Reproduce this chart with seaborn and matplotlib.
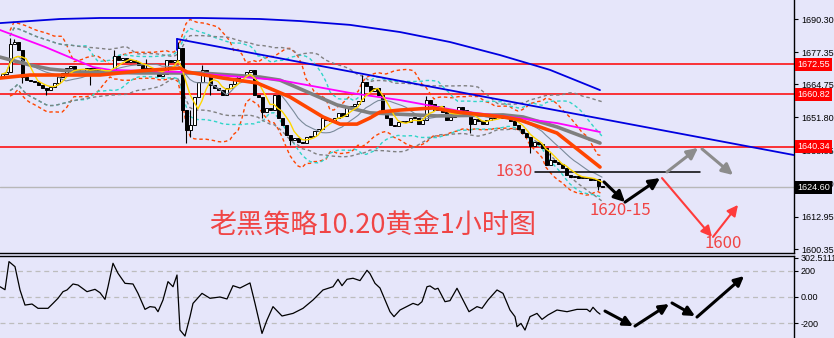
import numpy as np
import pandas as pd
import matplotlib
matplotlib.use("Agg")
import matplotlib.pyplot as plt
import seaborn as sns
from matplotlib.transforms import blended_transform_factory

# ---------------- data ----------------
first_open = 1667.6
closes = [
    1668.8, 1669.6, 1680.5, 1681.3, 1678.2, 1667.6, 1666.4, 1666.1, 1665.7, 1664.5,
    1663.3, 1662.5, 1663.7, 1665.3, 1667.6, 1669.2, 1671.1, 1671.9, 1670.4, 1669.6,
    1670.0, 1671.1, 1670.4, 1671.1, 1670.0, 1669.2, 1669.6, 1670.4, 1675.8, 1674.3,
    1675.1, 1673.5, 1674.3, 1673.5, 1672.3, 1670.8, 1671.1, 1670.4, 1670.0, 1668.0,
    1668.8, 1674.3, 1673.5, 1674.3, 1679.0, 1654.7, 1646.9, 1648.8, 1659.8, 1665.7,
    1670.4, 1668.8, 1664.5, 1663.3, 1662.5, 1660.6, 1663.3, 1664.9, 1667.2, 1668.0,
    1668.4, 1669.6, 1670.4, 1660.6, 1659.8, 1653.9, 1655.5, 1654.7, 1660.6, 1651.6,
    1648.8, 1644.9, 1643.0, 1643.8, 1642.2, 1641.8, 1644.2, 1644.6, 1646.5, 1647.3,
    1651.6, 1650.8, 1650.4, 1651.6, 1653.5, 1652.4, 1655.5, 1656.3, 1657.1, 1658.2,
    1665.7, 1664.1, 1662.2, 1663.3, 1660.6, 1653.9, 1651.6, 1648.8, 1648.5, 1650.0,
    1650.4, 1650.0, 1651.6, 1651.6, 1649.2, 1650.8, 1658.6, 1657.1, 1654.7, 1656.3,
    1653.9, 1650.8, 1652.0, 1653.2, 1655.9, 1654.7, 1652.4, 1649.2, 1651.2, 1650.4,
    1649.2, 1650.8, 1651.6, 1652.4, 1652.0, 1651.6, 1652.4, 1650.4, 1648.8, 1647.3,
    1645.7, 1644.2, 1640.6, 1642.2, 1641.4, 1639.9, 1633.2, 1635.2, 1634.4, 1633.6,
    1632.0, 1629.3, 1628.5, 1628.9, 1628.1, 1628.5, 1628.1, 1627.3, 1627.7, 1625.0,
    1624.6,
]
wick_highs = {2: 1682.9, 3: 1682.5, 28: 1678.2, 36: 1674.5, 44: 1681.3, 47: 1654.7,
              50: 1672.3, 90: 1668.4, 106: 1660.2, 137: 1638.3}
wick_lows = {5: 1665.3, 11: 1660.6, 22: 1664.5, 45: 1650.0, 46: 1641.8, 47: 1644.2,
             52: 1660.6, 65: 1651.5, 72: 1641.0, 117: 1645.7, 132: 1637.9, 149: 1623.5}

# moving-average lines (bar index, price)
blue_ma_x = [-0.5, 7, 14.5, 24.5, 32, 49.5, 64.5, 74.5, 87, 99.5, 112, 124.5, 137, 149.5]
blue_ma_y = [1688.7, 1689.5, 1690.3, 1690.7, 1690.7, 1690.7, 1690.3, 1689.5, 1688.0,
             1685.2, 1681.3, 1676.2, 1670.4, 1662.5]
magenta_x = [-0.5, 10.75, 22.75, 27, 44.5, 69.5, 87, 99.5, 114.5, 127, 138.75, 149.5]
magenta_y = [1686.0, 1679.4, 1671.5, 1670.4, 1669.6, 1666.4, 1661.4, 1658.6, 1654.3,
             1652.0, 1649.6, 1646.1]
grey_x = [-0.5, 7, 12, 19.5, 34.5, 49.5, 64.5, 69.5, 75.25, 83.75, 92, 108.75, 125.25,
          130.25, 138.75, 149.5]
grey_y = [1675.4, 1672.3, 1670.7, 1669.6, 1669.2, 1669.2, 1667.6, 1666.4, 1662.5, 1656.7,
          1653.6, 1652.4, 1652.8, 1652.0, 1648.1, 1641.8]
orange_x = [-0.5, 7, 24.5, 34.5, 44.5, 46.25, 55.25, 63.75, 72, 80.25, 84.5, 88.75, 92,
            94.5, 99.5, 107.75, 113.75, 125.25, 129.5, 138.75, 149.5]
orange_y = [1667.2, 1668.4, 1668.4, 1670.0, 1671.1, 1669.6, 1667.2, 1665.3, 1659.8,
            1652.0, 1649.2, 1649.2, 1651.6, 1653.9, 1654.7, 1655.5, 1653.9, 1652.0,
            1650.8, 1645.7, 1632.4]

trend_x = [43.75, 198]
trend_y = [1682.5, 1637.1]

hlines_red = [1672.55, 1660.82, 1640.34]
current_price = 1624.60
level_1630 = 1630.5
price_ticks = [1600.35, 1612.95, 1625.90, 1638.85, 1651.80, 1664.75, 1677.35, 1690.30]

# oscillator (bar index, value)
osc_points = [
    (-0.5, 79), (0.75, 56), (1.75, 272), (3.25, 233), (4.5, 54), (5.75, -62), (7.5, -54),
    (9, -87), (11.5, -87), (12.75, -49), (14, -10), (15.25, 41), (16.25, 54), (17.75, 100),
    (19, 92), (21.25, 41), (23.25, 59), (24.5, 33), (25.75, -18), (26.5, 79), (27.75, 259),
    (29, 182), (30.75, 105), (32.75, 100), (34, 28), (35.75, -95), (37, -74), (38.25, -79),
    (39, -113), (40.25, -23), (41.5, 118), (42.75, 79), (43.75, 169), (44.5, -254),
    (45.75, -300), (47, -151), (47.75, -49), (50, 28), (52, -10), (54.5, 0), (56.25, -15),
    (57.75, 87), (59.5, 69), (62, 108), (63.25, -49), (65, -280), (66.25, -177),
    (67.75, -74), (70, -146), (72.75, -126), (75.25, -87), (77.75, -23), (80.25, 54),
    (82.75, 79), (84, 136), (85, 87), (86.25, 136), (87.75, 144), (89.5, 126),
    (91.25, 205), (92, 179), (93.25, 105), (94.5, 69), (97, -113), (98, -151),
    (99.5, -100), (102.75, -49), (104, -62), (105, -36), (106.25, 79), (107, 85),
    (108.25, 59), (109, 67), (110.75, -36), (112, -28), (113.75, 67), (115.25, -23),
    (116.75, -113), (118.75, -74), (120, -87), (121.5, -23), (123.75, 54), (125.25, 28),
    (127, -100), (128.25, -151), (128.75, -228), (129.75, -203), (130.75, -254),
    (132, -151), (133.75, -126), (135, -172), (136.5, -138), (138.75, -100),
    (141.25, -113), (143.75, -95), (146.25, -95), (147, -113), (147.75, -79),
    (148.75, -113), (149.5, -131),
]
osc_ticks = [-200, 0, 200, 302.5111]
osc_tick_labels = ["-200", "0.00", "200", "302.5111"]

# forecast arrows (bar index, price) and (bar index, oscillator value)
arrows_black = [((150.5, 1626.6), (155.75, 1618.7)), ((155.75, 1618.7), (164.5, 1628.1))]
arrows_grey = [((166.25, 1630.5), (174.0, 1639.9)), ((175.0, 1639.5), (182.75, 1629.3))]
arrows_red = [((165.0, 1628.1), (177.5, 1605.1)), ((177.75, 1605.1), (184.0, 1617.6))]
arrows_osc = [((150.75, -108), (157.75, -223)), ((158.25, -223), (166.75, -54)),
              ((167.5, -46), (173.25, -146)), ((173.75, -154), (185.5, 161))]

title_text = "老黑策略10.20黄金1小时图"

# ---------------- styling ----------------
BG = "#E6E6FA"
sns.set_theme(style="white", rc={"axes.facecolor": BG, "figure.facecolor": BG})
plt.rcParams["font.family"] = ["Liberation Sans", "Noto Sans CJK SC", "DejaVu Sans"]
CJK = ["Noto Sans CJK SC", "DejaVu Sans"]
RED_TXT = "#F04545"

fig = plt.figure(figsize=(8.34, 3.38), dpi=100)
W = 794 / 834
ax = fig.add_axes([0, (338 - 253) / 338, W, 253 / 338])
axo = fig.add_axes([0, 0, W, (338 - 256) / 338])
for a in (ax, axo):
    a.set_facecolor(BG)
    a.set_xlim(-0.5, 198)
    a.set_xticks([])
    for sp in ("left", "top"):
        a.spines[sp].set_visible(False)
    a.spines["right"].set_color("black")
    a.spines["right"].set_linewidth(1.0)
ax.spines["bottom"].set_color("black")
ax.spines["bottom"].set_linewidth(1.0)
axo.spines["bottom"].set_visible(False)
axo.spines["top"].set_visible(True)
axo.spines["top"].set_color("black")
axo.spines["top"].set_linewidth(1.0)

ax.set_ylim(1598.8, 1697.73)
axo.set_ylim(-315, 315)

# ---------------- main panel ----------------
c = np.array(closes)
o = np.array([first_open] + closes[:-1])
bars = np.arange(len(c))
hi = np.maximum(o, c)
lo = np.minimum(o, c)
for k, v in wick_highs.items():
    hi[k] = max(hi[k], v)
for k, v in wick_lows.items():
    lo[k] = min(lo[k], v)

s = pd.Series(c)
def bands(win, k):
    m = s.rolling(win, min_periods=3).mean()
    sd = s.rolling(win, min_periods=3).std(ddof=0)
    return m + k * sd, m - k * sd

band_specs = [(14, 2.4, "#FF4500"), (20, 2.0, "#30D5C8"), (30, 2.0, "#808080")]
for win, k, col in band_specs:
    up, dn = bands(win, k)
    ax.plot(bars, up, color=col, lw=1.0, ls=(0, (2.5, 2.0)), zorder=3)
    ax.plot(bars, dn, color=col, lw=1.0, ls=(0, (2.5, 2.0)), zorder=3)

for v in hlines_red:
    ax.axhline(v, color="#FF0000", lw=1.1, zorder=2)
ax.axhline(current_price, color="#B8B8B8", lw=1.0, zorder=2)

# candles
ax.vlines(bars, lo, hi, color="black", lw=0.8, zorder=4)
bull = c >= o
body_b = np.minimum(o, c)
body_h = np.maximum(np.abs(c - o), 0.3)
ax.bar(bars[bull], body_h[bull], bottom=body_b[bull], width=0.75, color="white",
       edgecolor="black", linewidth=0.7, zorder=5)
ax.bar(bars[~bull], body_h[~bull], bottom=body_b[~bull], width=0.75, color="black",
       edgecolor="black", linewidth=0.7, zorder=5)

# moving averages
sns.lineplot(x=bars, y=s.rolling(12, min_periods=1).mean(), ax=ax, color="#7A8A9A",
             lw=0.8, zorder=6, legend=False)
sns.lineplot(x=bars, y=s.rolling(5, min_periods=1).mean(), ax=ax, color="#FFD700",
             lw=1.0, zorder=7, legend=False)
sns.lineplot(x=grey_x, y=grey_y, ax=ax, color="#7F7F7F", lw=2.6, zorder=6, legend=False)
sns.lineplot(x=magenta_x, y=magenta_y, ax=ax, color="#FF00FF", lw=1.3, zorder=6,
             legend=False)
sns.lineplot(x=orange_x, y=orange_y, ax=ax, color="#FF4500", lw=2.6, zorder=7,
             legend=False)
sns.lineplot(x=blue_ma_x, y=blue_ma_y, ax=ax, color="#0000E0", lw=1.3, zorder=6,
             legend=False)
ax.plot(trend_x, trend_y, color="#0000E0", lw=1.3, zorder=6)
ax.plot([trend_x[0], trend_x[0]], [trend_y[0], trend_y[0] - 4.2], color="#0000E0",
        lw=1.3, zorder=6)

# 1630 level
ax.plot([133.25, 174.5], [level_1630, level_1630], color="black", lw=1.1, zorder=6)
ax.text(132.6, level_1630, "1630", family=CJK, fontsize=12, color=RED_TXT,
        ha="right", va="center", zorder=8)
ax.text(154.5, 1615.3, "1620-15", family=CJK, fontsize=12, color=RED_TXT,
        ha="center", va="center", zorder=8)
ax.text(180.3, 1602.6, "1600", family=CJK, fontsize=12, color=RED_TXT,
        ha="center", va="center", zorder=8)
ax.text(92.8, 1609.6, title_text, family=CJK, fontsize=19.5, color=RED_TXT,
        ha="center", va="center", zorder=8)

def draw_arrows(axis, segs, col, lw=2.2, ms=16):
    for (x0, y0), (x1, y1) in segs:
        axis.annotate("", xy=(x1, y1), xytext=(x0, y0),
                      arrowprops=dict(arrowstyle="-|>", color=col, lw=lw,
                                      mutation_scale=ms, shrinkA=0, shrinkB=0),
                      zorder=9)

draw_arrows(ax, arrows_black, "black")
draw_arrows(ax, arrows_grey, "#8C8C8C")
draw_arrows(ax, arrows_red, "#FF3B3B", lw=1.5)

# right price axis
ax.yaxis.tick_right()
ax.set_yticks(price_ticks)
ax.set_yticklabels([f"{t:.2f}" for t in price_ticks])
ax.tick_params(axis="y", direction="out", length=3, width=0.8, labelsize=6.5, pad=2,
               colors="black", right=True, left=False)
tr = blended_transform_factory(ax.transAxes, ax.transData)
for v, bg in [(1672.55, "#FF0000"), (1660.82, "#FF0000"), (1640.34, "#FF0000"),
              (current_price, "black")]:
    ax.text(1.004, v, f"{v:.2f}", transform=tr, ha="left", va="center", fontsize=6.5,
            color="white", bbox=dict(boxstyle="square,pad=0.22", fc=bg, ec="none"),
            clip_on=False, zorder=10)

# ---------------- oscillator panel ----------------
for v in (-200, 0, 200):
    axo.axhline(v, color="#BDBDBD", lw=0.9, ls=(0, (4, 3)), zorder=1)
ox = [p[0] for p in osc_points]
oy = [p[1] for p in osc_points]
sns.lineplot(x=ox, y=oy, ax=axo, color="black", lw=0.9, zorder=3, legend=False)
draw_arrows(axo, arrows_osc, "black", lw=2.2, ms=14)
axo.yaxis.tick_right()
axo.set_yticks(osc_ticks)
axo.set_yticklabels(osc_tick_labels)
axo.tick_params(axis="y", direction="out", length=3, width=0.8, labelsize=6.5, pad=2,
                colors="black", right=True, left=False)
axo.set_ylabel("")
ax.set_ylabel("")

fig.savefig("out.png", dpi=100, facecolor=BG)
